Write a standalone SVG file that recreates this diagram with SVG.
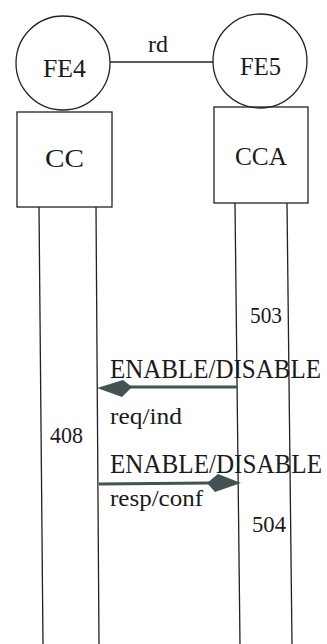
<svg xmlns="http://www.w3.org/2000/svg" width="327" height="644" viewBox="0 0 327 644">
<style>
.s{fill:none;stroke:#222;stroke-width:1.3}
text{font-family:"Liberation Serif","Times New Roman",serif;fill:#1a1a1a}
.a{font-size:26px}
.b{font-size:23px}
.c{font-size:28px}
.m{stroke:#435252;stroke-width:3;fill:none}
.h{fill:#435252;stroke:none}
</style>
<rect width="327" height="644" fill="#fff"/>
<g id="connectors">
<line class="s" x1="110" y1="62" x2="213" y2="62"/>
<text class="b" x="148" y="52" textLength="20" lengthAdjust="spacingAndGlyphs">rd</text>
<line class="s" x1="39" y1="207" x2="43" y2="644"/>
<line class="s" x1="96" y1="207" x2="99" y2="644"/>
<line class="s" x1="235" y1="203" x2="240" y2="644"/>
<line class="s" x1="287" y1="203" x2="292" y2="644"/>
<line class="m" x1="130" y1="387" x2="237" y2="387"/>
<polygon class="h" points="97,388 123,380 132,387 122,397"/>
<line class="m" x1="99" y1="484" x2="209" y2="483"/>
<polygon class="h" points="241,483 218,474 207,483 215,492"/>
<text class="c" x="110" y="378" textLength="211" lengthAdjust="spacingAndGlyphs">ENABLE/DISABLE</text>
<text class="b" x="110" y="424" textLength="72" lengthAdjust="spacingAndGlyphs">req/ind</text>
<text class="c" x="110" y="473" textLength="212" lengthAdjust="spacingAndGlyphs">ENABLE/DISABLE</text>
<text class="b" x="110" y="506" textLength="93" lengthAdjust="spacingAndGlyphs">resp/conf</text>
</g>
<g id="FE4">
<circle class="s" cx="63" cy="63" r="47"/>
<text class="a" x="43" y="77" textLength="43" lengthAdjust="spacingAndGlyphs">FE4</text>
</g>
<g id="FE5">
<circle class="s" cx="260" cy="61" r="47"/>
<text class="a" x="240" y="75" textLength="41" lengthAdjust="spacingAndGlyphs">FE5</text>
</g>
<g id="CC">
<rect class="s" x="17" y="112" width="95" height="95"/>
<text class="a" x="45" y="167" textLength="39" lengthAdjust="spacingAndGlyphs">CC</text>
</g>
<g id="CCA">
<rect class="s" x="214" y="107" width="94" height="96"/>
<text class="a" x="235" y="165" textLength="52" lengthAdjust="spacingAndGlyphs">CCA</text>
</g>
<g id="labels">
<text class="b" x="250" y="323" textLength="32" lengthAdjust="spacingAndGlyphs">503</text>
<text class="b" x="50" y="443" textLength="33" lengthAdjust="spacingAndGlyphs">408</text>
<text class="b" x="252" y="532" textLength="34" lengthAdjust="spacingAndGlyphs">504</text>
</g>
</svg>
